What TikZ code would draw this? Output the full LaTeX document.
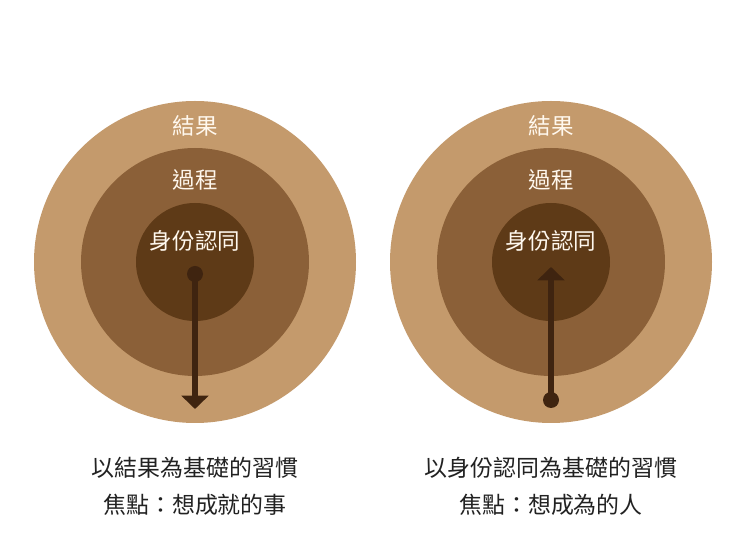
\documentclass[tikz,border=0pt]{standalone}
\usepackage{fontspec}
\setmainfont{Noto Sans CJK TC}
\usetikzlibrary{arrows.meta}
\definecolor{ring1}{HTML}{C49A6C}
\definecolor{ring2}{HTML}{8B6038}
\definecolor{ring3}{HTML}{5E3A17}
\definecolor{arrowc}{HTML}{3F2410}
\definecolor{lbl}{HTML}{FFF8EE}
\definecolor{cap}{HTML}{222222}
\tikzset{
  ringA/.style={circle, fill=ring1, minimum size=322*0.75pt, inner sep=0pt},
  ringB/.style={circle, fill=ring2, minimum size=228*0.75pt, inner sep=0pt},
  ringC/.style={circle, fill=ring3, minimum size=118*0.75pt, inner sep=0pt},
  inlabel/.style={text=lbl, font=\fontsize{16.9pt}{18pt}\selectfont, inner sep=0pt},
  caption/.style={text=cap, font=\fontsize{17.2pt}{28pt}\selectfont, inner sep=0pt, align=center},
  dotnode/.style={circle, fill=arrowc, minimum size=12pt, inner sep=0pt},
  shaft/.style={draw=arrowc, line width=4pt, -{Triangle[width=20pt,length=10pt]}}
}
\begin{document}
\begin{tikzpicture}[x=0.75pt,y=-0.75pt]
\useasboundingbox[fill=white] (0,0) rectangle (740,555);
% left
\node[ringA] (lA) at (195,262) {};
\node[ringB] (lB) at (195,262) {};
\node[ringC] (lC) at (195,262) {};
\node[inlabel] (lt1) at (195,126) {結果};
\node[inlabel] (lt2) at (195,180) {過程};
\node[inlabel] (lt3) at (195,241) {身份認同};
\node[dotnode] (ldot) at (195,274) {};
\coordinate (ltip) at (195,409);
\draw[shaft] (ldot.center) -- (ltip);
% right
\node[ringA] (rA) at (551,262) {};
\node[ringB] (rB) at (551,262) {};
\node[ringC] (rC) at (551,262) {};
\node[inlabel] (rt1) at (551,126) {結果};
\node[inlabel] (rt2) at (551,180) {過程};
\node[inlabel] (rt3) at (551,241) {身份認同};
\node[dotnode] (rdot) at (551,400) {};
\coordinate (rtip) at (551,267);
\draw[shaft] (rdot.center) -- (rtip);
% captions
\node[caption] (lcap1) at (195,468) {以結果為基礎的習慣};
\node[caption] (lcap2) at (195,505) {焦點：想成就的事};
\node[caption] (rcap1) at (551,468) {以身份認同為基礎的習慣};
\node[caption] (rcap2) at (551,505) {焦點：想成為的人};
\end{tikzpicture}
\end{document}
